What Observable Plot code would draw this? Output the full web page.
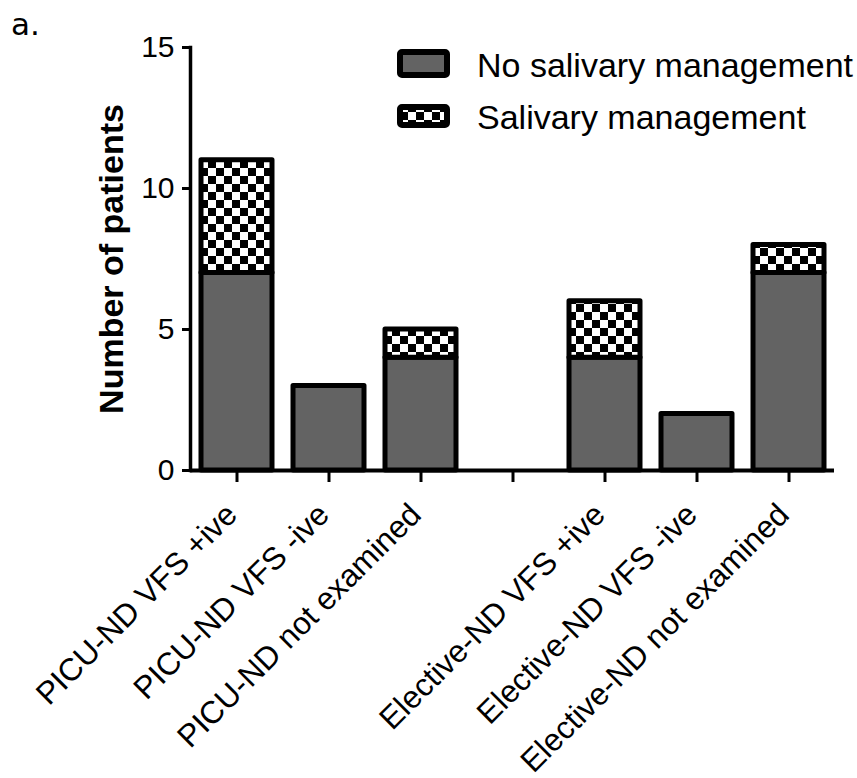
<!DOCTYPE html>
<html>
<head>
<meta charset="utf-8">
<script src="https://cdn.jsdelivr.net/npm/d3@7"></script>
<script src="https://cdn.jsdelivr.net/npm/@observablehq/plot@0.6"></script>
<style>
  body { margin: 0; background: #fff; }
  #chart { width: 857px; height: 778px; }
</style>
</head>
<body>
<div id="chart"></div>
<script>
// ---- data ----
const categories = [
  "PICU-ND VFS +ive",
  "PICU-ND VFS -ive",
  "PICU-ND not examined",
  " ",
  "Elective-ND VFS +ive",
  "Elective-ND VFS -ive",
  "Elective-ND not examined"
];
const series = ["No salivary management", "Salivary management"];
const noManagement = [7, 3, 4, null, 4, 2, 7];
const management   = [4, 0, 1, null, 2, 0, 1];
const yTicks = [0, 5, 10, 15];
const yLabel = "Number of patients";
const panelLabel = "a.";

const data = [];
categories.forEach((c, i) => {
  if (noManagement[i]) data.push({category: c, series: series[0], value: noManagement[i]});
  if (management[i]) data.push({category: c, series: series[1], value: management[i]});
});

const font = "'Liberation Sans', Arial, Helvetica, sans-serif";

const plot = Plot.plot({
  width: 857,
  height: 778,
  marginLeft: 190,
  marginRight: 23,
  marginTop: 47,
  marginBottom: 308,
  style: {fontFamily: font, background: "white", color: "black", overflow: "visible"},
  x: {domain: categories, paddingInner: 0.23, paddingOuter: 0.115},
  y: {domain: [0, 15]},
  color: {domain: series, range: ["#636363", "url(#checker)"]},
  marks: [
    Plot.barY(data, {
      x: "category", y: "value", fill: "series",
      stroke: "black", strokeWidth: 5, strokeLinejoin: "round"
    }),
    Plot.axisY({ticks: yTicks, tickSize: 8, tickPadding: 8, fontSize: 30, strokeWidth: 3, label: null}),
    Plot.axisX({tickSize: 12, strokeWidth: 3, tickFormat: () => "", label: null}),
    Plot.frame({anchor: "left", strokeWidth: 3.5}),
    Plot.ruleY([0], {strokeWidth: 4}),
    Plot.text(categories.filter(c => c.trim()), {
      x: d => d, text: d => d, frameAnchor: "bottom", dy: 46, dx: 2,
      rotate: -45, textAnchor: "end", lineAnchor: "bottom", fontSize: 31.5
    }),
    Plot.text([yLabel], {
      text: d => d, frameAnchor: "left", dx: -68, rotate: -90,
      textAnchor: "middle", lineAnchor: "bottom", fontSize: 34, fontWeight: "bold"
    })
  ]
});

const svg = d3.select(plot);
const defs = svg.insert("defs", ":first-child");
const pat = defs.append("pattern").attr("id", "checker")
  .attr("patternUnits", "userSpaceOnUse").attr("width", 16).attr("height", 16);
pat.append("rect").attr("width", 16).attr("height", 16).attr("fill", "white");
pat.append("rect").attr("width", 8).attr("height", 8).attr("fill", "black");
pat.append("rect").attr("x", 8).attr("y", 8).attr("width", 8).attr("height", 8).attr("fill", "black");

// legend
const leg = svg.append("g").attr("font-family", font).attr("font-size", 34).attr("text-anchor", "start");
const swatches = [
  {y: 52, h: 23, fill: "#636363", ty: 77},
  {y: 107, h: 18, fill: "url(#checker)", ty: 129}
];
swatches.forEach((s, i) => {
  leg.append("rect").attr("x", 400).attr("y", s.y).attr("width", 47).attr("height", s.h)
    .attr("rx", 2).attr("fill", s.fill).attr("stroke", "black").attr("stroke-width", 6);
  leg.append("text").attr("x", 477).attr("y", s.ty).attr("fill", "black").text(series[i]);
});

// panel label
svg.append("text").attr("x", 11).attr("y", 35).attr("text-anchor", "start")
  .attr("font-family", "'DejaVu Sans', sans-serif").attr("font-size", 31)
  .attr("fill", "black").text(panelLabel);

document.getElementById("chart").appendChild(plot);
</script>
</body>
</html>
